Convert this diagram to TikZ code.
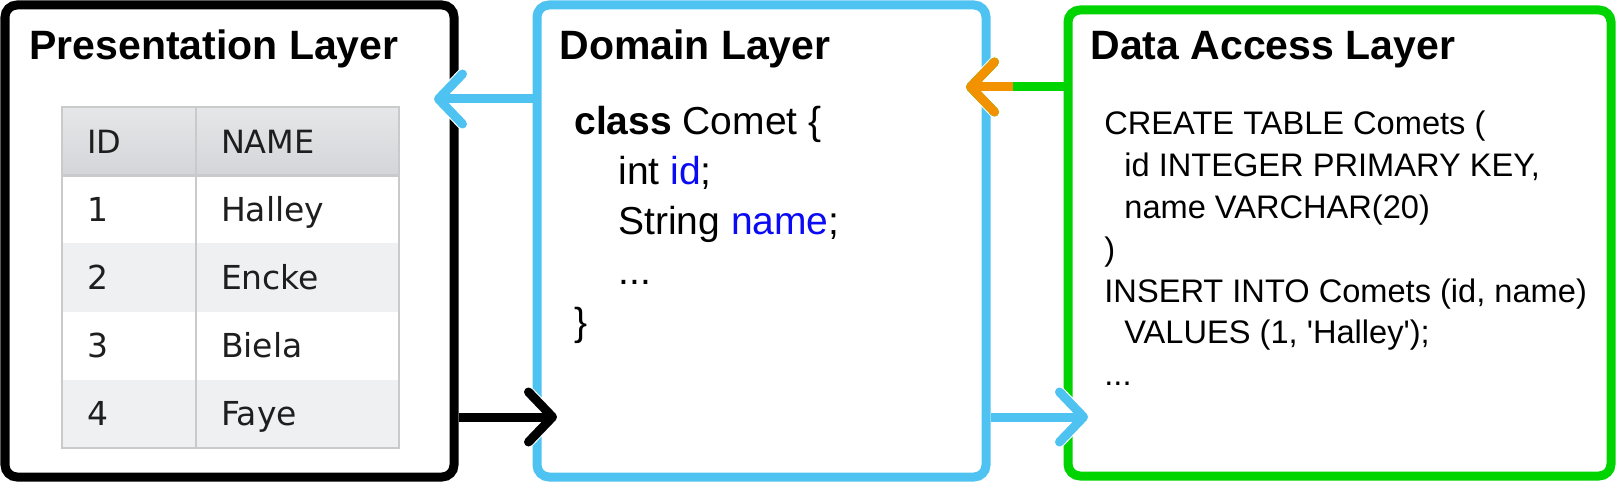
\documentclass[tikz,border=0pt]{standalone}
\usepackage{fontspec}
\setmainfont{Liberation Sans}
\newfontfamily\gridfont{DejaVu Sans}
\usetikzlibrary{arrows.meta,positioning}
\definecolor{layerblue}{HTML}{4EC3F1}
\definecolor{layergreen}{HTML}{00D400}
\definecolor{returnorange}{HTML}{F39200}
\definecolor{fieldblue}{HTML}{0A0AF5}
\definecolor{gridline}{HTML}{C9CACC}
\definecolor{headtop}{HTML}{E6E7E9}
\definecolor{headbottom}{HTML}{D4D5D8}
\definecolor{stripe}{HTML}{EFF0F2}
\definecolor{gridtext}{HTML}{1E1E1E}

\begin{document}
\begin{tikzpicture}[
  node distance=37pt,
  layer/.style={draw,line width=4.5pt,rounded corners=6pt,outer sep=2.25pt,
                minimum width=224.5pt,minimum height=236pt,inner sep=0pt},
  layertitle/.style={anchor=base west,inner sep=0pt,
                     font=\fontsize{20.5}{24}\selectfont\bfseries},
  codetext/.style={anchor=base west,inner sep=0pt,align=left},
  cell/.style={anchor=north west,inner xsep=12.5pt,inner ysep=0pt,outer sep=0pt,
               minimum height=34.1pt,text height=12pt,text depth=0pt,align=left,
               text=gridtext,font=\gridfont\fontsize{16.5}{18}\selectfont},
  idcol/.style={cell,text width=42pt},
  namecol/.style={cell,text width=76.5pt},
  arrow/.style={line width=4.5pt,
                -{Straight Barb[length=12pt,width=25pt,line width=4.5pt,round]},
                shorten >=-12.25pt},
  haloarrow/.style={arrow,preaction={draw=white,line width=8.5pt,shorten <=22pt,
                -{Straight Barb[length=12pt,width=25pt,line width=8.5pt,round]}}}]
\useasboundingbox (0,0) rectangle (808pt,241pt);
% the three layers
\node[layer] (pres) at (114.75pt,120.5pt) {};
\node[layer,draw=layerblue,right=of pres] (domain) {};
\node[layer,draw=layergreen,right=36.5pt of domain,yshift=-1pt,
      minimum width=271.5pt,minimum height=233pt] (data) {};
% connectors
\coordinate (viewrow) at (0,191.5pt);
\coordinate (returnrow) at (0,197.5pt);
\coordinate (actionrow) at (0,32.5pt);
\coordinate (returnsplit) at (506.5pt,197.5pt);
\draw[haloarrow,draw=layerblue] (domain.west|-viewrow) -- (pres.east|-viewrow);
\draw[haloarrow] (pres.east|-actionrow) -- (domain.west|-actionrow);
\draw[haloarrow,draw=layerblue] (domain.east|-actionrow) -- (data.west|-actionrow);
\draw[haloarrow,draw=layergreen] (data.west|-returnrow) -- (domain.east|-returnrow);
\draw[arrow,draw=returnorange] (returnsplit) -- (domain.east|-returnrow);
% titles
\node[layertitle] (prestitle) at ([xshift=14.25pt,yshift=-29.75pt]pres.north west) {Presentation Layer};
\node[layertitle] (domaintitle) at ([xshift=13.25pt,yshift=-29.75pt]domain.north west) {Domain Layer};
\node[layertitle] (datatitle) at ([xshift=13.25pt,yshift=-27.25pt]data.north west) {Data Access Layer};
% table of comets
\node[idcol,top color=headtop,bottom color=headbottom,
      font=\gridfont\fontsize{16}{18}\selectfont] (id0) at (31pt,187.5pt) {ID};
\node[namecol,top color=headtop,bottom color=headbottom,
      font=\gridfont\fontsize{16}{18}\selectfont] (name0) at (id0.north east) {NAME};
\foreach \r/\num/\comet/\shade in {1/1/Halley/white,2/2/Encke/stripe,3/3/Biela/white,4/4/Faye/stripe}{
  \node[idcol,fill=\shade] (id\r) at (31pt,{187.5pt-\r*34.1pt}) {\num};
  \node[namecol,fill=\shade] (name\r) at (id\r.north east) {\comet};
}
\draw[gridline,line width=1.35pt] (id0.north west) rectangle (name4.south east);
\draw[gridline,line width=1.35pt] (id0.north east) -- (id4.south east);
\draw[gridline,line width=1.35pt] (id0.south west) -- (name0.south east);
% code (anchored at the baseline of the last line)
\node[codetext,font=\fontsize{19.5}{25}\selectfont] (classdef)
  at ([xshift=20.75pt,yshift=-167.25pt]domain.north west)
  {\textbf{class} Comet \{\\\hspace*{22pt}int \textcolor{fieldblue}{id};\\
   \hspace*{22pt}String \textcolor{fieldblue}{name};\\\hspace*{22pt}...\\\}};
\node[codetext,font=\fontsize{16.3}{20.9}\selectfont] (sqldef)
  at ([xshift=20.25pt,yshift=-190.15pt]data.north west)
  {CREATE TABLE Comets (\\\hspace*{10pt}id INTEGER PRIMARY KEY,\\
   \hspace*{10pt}name VARCHAR(20)\\)\\INSERT INTO Comets (id, name)\\
   \hspace*{10pt}VALUES (1, \textquotesingle Halley\textquotesingle);\\...};
\end{tikzpicture}
\end{document}
